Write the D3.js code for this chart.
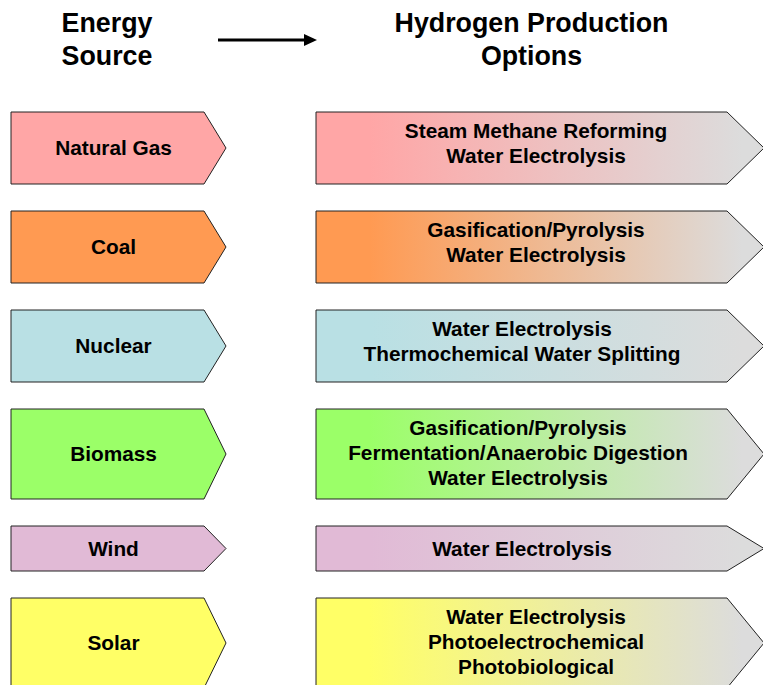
<!DOCTYPE html>
<html>
<head>
<meta charset="utf-8">
<title>Hydrogen Production Options</title>
<script src="https://cdn.jsdelivr.net/npm/d3@7"></script>
<style>
  body { margin: 0; background: #fff; }
  svg text { font-family: "Liberation Sans", Arial, sans-serif; font-weight: bold; fill: #000; }
</style>
</head>
<body>
<svg width="763" height="685"></svg>
<script>
// ----- data -----------------------------------------------------------
var sources = ["Natural Gas", "Coal", "Nuclear", "Biomass", "Wind", "Solar"];
var sourceColors = ["#ffa6a6", "#ff9a52", "#b9e0e4", "#9bff68", "#e1bad6", "#ffff66"];
var options = [
  ["Steam Methane Reforming", "Water Electrolysis"],
  ["Gasification/Pyrolysis", "Water Electrolysis"],
  ["Water Electrolysis", "Thermochemical Water Splitting"],
  ["Gasification/Pyrolysis", "Fermentation/Anaerobic Digestion", "Water Electrolysis"],
  ["Water Electrolysis"],
  ["Water Electrolysis", "Photoelectrochemical", "Photobiological"]
];
var leftTitle = ["Energy", "Source"];
var rightTitle = ["Hydrogen Production", "Options"];

// ----- layout ---------------------------------------------------------
var svg = d3.select("svg");
var boxHeight = {1: 45, 2: 72, 3: 90},
    textShift = {1: 0, 2: -4.5, 3: -1},
    gap = 27,
    top0 = 112,
    lineH = 25;
// the text blocks in the right boxes are not all centred the same
var optionTextX = [536, 536, 522, 518, 522, 536];

var rows = [];
var y = top0;
sources.forEach(function(s, i) {
  var h = boxHeight[options[i].length];
  rows.push({name: s, color: sourceColors[i], opts: options[i], y: y, h: h, i: i});
  y += h + gap;
});

// left and right box geometry
var L = {x0: 11, x1: 204, tip: 226, cx: 113.5},
    R = {x0: 316, x1: 727, tip: 764};

function arrowPath(b, d) {
  return "M" + b.x0 + "," + d.y +
    "L" + b.x1 + "," + d.y +
    "L" + b.tip + "," + (d.y + d.h / 2) +
    "L" + b.x1 + "," + (d.y + d.h) +
    "L" + b.x0 + "," + (d.y + d.h) + "Z";
}

// gradients for the right hand boxes
var defs = svg.append("defs");
var grad = defs.selectAll("linearGradient")
    .data(rows)
  .enter().append("linearGradient")
    .attr("id", function(d) { return "g" + d.i; })
    .attr("gradientUnits", "userSpaceOnUse")
    .attr("x1", R.x0).attr("x2", R.tip)
    .attr("y1", 0).attr("y2", 0);
grad.append("stop").attr("offset", "0.12").attr("stop-color", function(d) { return d.color; });
grad.append("stop").attr("offset", "0.95").attr("stop-color", "#dcdcdc");

// ----- titles ---------------------------------------------------------
svg.append("g").selectAll("text")
    .data(leftTitle)
  .enter().append("text")
    .attr("x", 107)
    .attr("y", function(d, i) { return 32 + i * 33; })
    .attr("text-anchor", "middle")
    .style("font-size", "26.8px")
    .text(function(d) { return d; });

svg.append("g").selectAll("text")
    .data(rightTitle)
  .enter().append("text")
    .attr("x", 531.5)
    .attr("y", function(d, i) { return 32 + i * 33; })
    .attr("text-anchor", "middle")
    .style("font-size", "26.8px")
    .text(function(d) { return d; });

// header arrow
svg.append("line")
    .attr("x1", 218).attr("x2", 306)
    .attr("y1", 40).attr("y2", 40)
    .attr("stroke", "#000").attr("stroke-width", 3);
svg.append("path")
    .attr("d", "M304,34L317,40L304,46Z")
    .attr("fill", "#000");

// ----- rows -----------------------------------------------------------
var row = svg.append("g").selectAll(".row")
    .data(rows)
  .enter().append("g")
    .attr("class", "row");

row.append("path")
    .attr("d", function(d) { return arrowPath(L, d); })
    .attr("fill", function(d) { return d.color; })
    .attr("stroke", "#222")
    .attr("stroke-width", 1);

row.append("text")
    .attr("x", L.cx)
    .attr("y", function(d) { return d.y + d.h / 2; })
    .attr("dy", "0.36em")
    .attr("text-anchor", "middle")
    .style("font-size", "20.8px")
    .text(function(d) { return d.name; });

row.append("path")
    .attr("d", function(d) { return arrowPath(R, d); })
    .attr("fill", function(d) { return "url(#g" + d.i + ")"; })
    .attr("stroke", "#222")
    .attr("stroke-width", 1);

row.append("text")
    .attr("text-anchor", "middle")
    .style("font-size", "20.8px")
    .selectAll("tspan")
    .data(function(d) {
      var n = d.opts.length;
      return d.opts.map(function(t, k) {
        return {t: t, x: optionTextX[d.i],
                y: d.y + d.h / 2 + textShift[n] + (k - (n - 1) / 2) * lineH};
      });
    })
  .enter().append("tspan")
    .attr("x", function(d) { return d.x; })
    .attr("y", function(d) { return d.y; })
    .attr("dy", "0.36em")
    .text(function(d) { return d.t; });
</script>
</body>
</html>
